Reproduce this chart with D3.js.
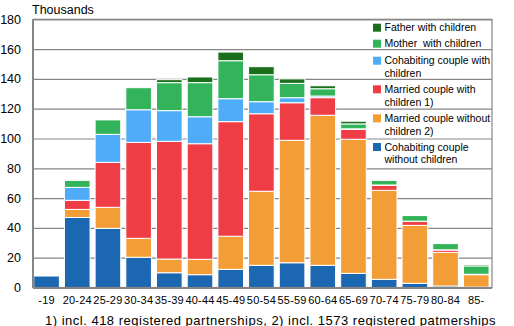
<!DOCTYPE html>
<html lang="en">
<head>
<meta charset="UTF-8">
<title>Families by age of reference person</title>
<style>
    body { margin: 0; background: #fff; }
    svg { display: block; font-family: "Liberation Sans", Arial, sans-serif; }
    .grid line { stroke: #868686; stroke-width: 1.2px; }
    .grid path { display: none; }
    .ylab text { font-size: 12.5px; fill: #000; }
    .xlab text { font-size: 11px; fill: #000; }
    .legend text { font-size: 10.5px; fill: #000; white-space: pre; }
</style>
</head>
<body>
<svg id="main" width="514" height="326"></svg>

<script src="https://cdn.jsdelivr.net/npm/d3@7"></script>
<script>
// age groups of the reference person
var ageGroups = ["-19", "20-24", "25-29", "30-34", "35-39", "40-44", "45-49", "50-54",
    "55-59", "60-64", "65-69", "70-74", "75-79", "80-84", "85-"];

// family counts, thousands, bottom segment first
var cohabWithout = [7.7, 47, 39.7, 20.3, 9.9, 8.6, 12.2, 14.9, 16.6, 14.9, 9.5, 5.5, 2.8, 1.0, 0.3];
var marriedWithout = [0, 5.4, 14.1, 12.7, 9.2, 10.3, 22.2, 49.7, 82.2, 100.7, 90, 59.7, 38.9, 22.6, 8.3];
var marriedWith = [0, 6.1, 30.2, 64.4, 79, 77.6, 76.9, 52, 25.2, 11.8, 6.7, 3.4, 2.7, 1.6, 0.3];
var cohabWith = [0, 8.7, 18.8, 21.9, 20.6, 18.1, 15.4, 8.1, 3.4, 1.1, 0.3, 0.2, 0.1, 0.1, 0];
var motherWith = [0, 4.7, 9.8, 14.8, 18.8, 22.9, 25.5, 18.1, 9.6, 4.9, 3.3, 3.1, 3.8, 4.2, 5.6];
var fatherWith = [0, 0.3, 0.3, 0, 2.0, 3.8, 5.8, 5.4, 3.0, 2.0, 1.8, 0.3, 0.3, 0.3, 0.9];

var yTicks = [0, 20, 40, 60, 80, 100, 120, 140, 160, 180];

var series = [
    { key: "cohabWithout", values: cohabWithout, color: "#1c67b1", label: ["Cohabiting couple", "without children"] },
    { key: "marriedWithout", values: marriedWithout, color: "#f29d35", label: ["Married couple without", "children 2)"] },
    { key: "marriedWith", values: marriedWith, color: "#ef3d45", label: ["Married couple with", "children 1)"] },
    { key: "cohabWith", values: cohabWith, color: "#4eacf8", label: ["Cohabiting couple with", "children"] },
    { key: "motherWith", values: motherWith, color: "#33b45a", label: ["Mother  with children"] },
    { key: "fatherWith", values: fatherWith, color: "#1b6e1c", label: ["Father with children"] }
];

var rows = ageGroups.map(function(g, i) {
    var r = { group: g };
    series.forEach(function(s) { r[s.key] = s.values[i]; });
    return r;
});

// plot box
var plotL = 33, plotR = 492, plotT = 19.3, plotB = 287.5;
var svg = d3.select("#main");

var x = d3.scaleBand()
    .domain(ageGroups)
    .range([plotL, plotR])
    .paddingInner(0.165)
    .paddingOuter(0.06)
    .align(0.2);

var y = d3.scaleLinear()
    .domain([0, 180])
    .range([plotB, plotT]);

// gridlines
svg.append("g")
    .attr("class", "grid")
    .attr("transform", "translate(" + plotL + ",0)")
    .call(d3.axisLeft(y).tickValues(yTicks).tickSize(-(plotR - plotL)).tickFormat(""));

// stacked bars
var stack = d3.stack().keys(series.map(function(s) { return s.key; }));
var layers = stack(rows);

svg.append("g")
    .selectAll("g")
    .data(layers)
    .join("g")
    .attr("fill", function(d, i) { return series[i].color; })
    .selectAll("rect")
    .data(function(d) { return d.filter(function(p) { return p[1] - p[0] > 0; }); })
    .join("rect")
    .attr("x", function(d) { return x(d.data.group); })
    .attr("width", x.bandwidth())
    .attr("y", function(d) { return y(d[1]); })
    .attr("height", function(d) { return y(d[0]) - y(d[1]); })
    .attr("stroke", "#fff")
    .attr("stroke-width", 1);

// frame
svg.append("rect")
    .attr("x", plotL)
    .attr("y", plotT)
    .attr("width", plotR - plotL)
    .attr("height", plotB - plotT)
    .attr("fill", "none")
    .attr("stroke", "#868686")
    .attr("stroke-width", 1.2);
svg.append("line")
    .attr("x1", plotL).attr("x2", plotL)
    .attr("y1", plotT).attr("y2", plotB + 0.5)
    .attr("stroke", "#868686").attr("stroke-width", 2);
svg.append("line")
    .attr("x1", plotL).attr("x2", plotR)
    .attr("y1", plotB + 0.5).attr("y2", plotB + 0.5)
    .attr("stroke", "#868686").attr("stroke-width", 2);

// y labels
var ya = svg.append("g")
    .attr("class", "ylab")
    .attr("transform", "translate(" + plotL + ",0)")
    .call(d3.axisLeft(y).tickValues(yTicks).tickSize(0).tickPadding(12));
ya.select(".domain").remove();

// x labels
var xa = svg.append("g")
    .attr("class", "xlab")
    .attr("transform", "translate(0," + plotB + ")")
    .call(d3.axisBottom(x).tickSize(0).tickPadding(9));
xa.select(".domain").remove();
xa.selectAll("text").attr("letter-spacing", "0.2px");

svg.append("text")
    .attr("x", 32)
    .attr("y", 13.5)
    .attr("font-size", "12.5px")
    .text("Thousands");

svg.append("text")
    .attr("x", 45)
    .attr("y", 324.5)
    .attr("font-size", "13px")
    .attr("letter-spacing", "0.5px")
    .text("1) incl. 418 registered partnerships, 2) incl. 1573 registered patmerships");

// legend, top entry first
var legendY = [27.7, 43.7, 60.7, 89.3, 118.3, 147];
var legend = svg.append("g").attr("class", "legend");
series.slice().reverse().forEach(function(s, i) {
    var cy = legendY[i];
    legend.append("rect")
        .attr("x", 373)
        .attr("y", cy - 4)
        .attr("width", 8)
        .attr("height", 8)
        .attr("fill", s.color);
    s.label.forEach(function(line, j) {
        legend.append("text")
            .attr("x", 384.5)
            .attr("y", cy + j * 12.8)
            .attr("dy", "0.35em")
            .text(line);
    });
});
</script>
</body>
</html>
